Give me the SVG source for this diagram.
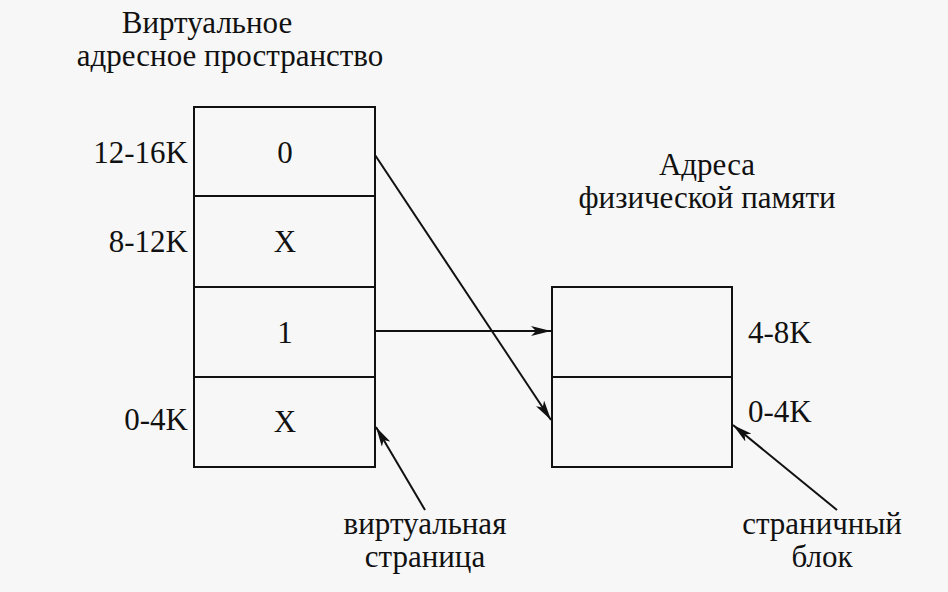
<svg xmlns="http://www.w3.org/2000/svg" width="948" height="592" viewBox="0 0 948 592">
<style>
text{font-family:"Liberation Serif","Times New Roman",serif;font-size:31px;fill:#111}
.box{fill:none;stroke:#111;stroke-width:2}
.ln{stroke:#111;stroke-width:2;fill:none}
.mid{text-anchor:middle}
.end{text-anchor:end}
</style>
<defs>
<marker id="ah" viewBox="0 0 20 10" refX="20" refY="5" markerWidth="20" markerHeight="10" markerUnits="userSpaceOnUse" orient="auto">
<path d="M0,0 L20,5 L0,10 L5,5 Z" fill="#111"/>
</marker>
</defs>
<rect width="948" height="592" fill="#f7f7f7"/>
<text class="mid" x="207" y="33">Виртуальное</text>
<text class="mid" x="230" y="66">адресное пространство</text>
<g id="vpage3"><rect class="box" x="194" y="107" width="181" height="89"/><text class="mid" x="285" y="163">0</text><text class="end" x="188" y="163">12-16K</text></g>
<g id="vpage2"><rect class="box" x="194" y="196" width="181" height="91"/><text class="mid" x="285" y="252">X</text><text class="end" x="188" y="252">8-12K</text></g>
<g id="vpage1"><rect class="box" x="194" y="287" width="181" height="90"/><text class="mid" x="285" y="343">1</text></g>
<g id="vpage0"><rect class="box" x="194" y="377" width="181" height="90"/><text class="mid" x="285" y="432">X</text><text class="end" x="188" y="430">0-4K</text></g>
<text class="mid" x="707" y="175">Адреса</text>
<text class="mid" x="707" y="208">физической памяти</text>
<g id="frame1"><rect class="box" x="552" y="287" width="180" height="90"/><text x="748" y="343">4-8K</text></g>
<g id="frame0"><rect class="box" x="552" y="377" width="180" height="90"/><text x="748" y="422">0-4K</text></g>
<text class="mid" x="425" y="534">виртуальная</text>
<text class="mid" x="425" y="567">страница</text>
<text class="mid" x="822" y="534">страничный</text>
<text class="mid" x="822" y="567">блок</text>
<g id="connectors">
<line class="ln" x1="375" y1="155" x2="551" y2="420" marker-end="url(#ah)"/>
<line class="ln" x1="375" y1="331" x2="551" y2="331" marker-end="url(#ah)"/>
<line class="ln" x1="425" y1="510" x2="376" y2="427" marker-end="url(#ah)"/>
<line class="ln" x1="837" y1="510" x2="733" y2="425" marker-end="url(#ah)"/>
</g>
</svg>
